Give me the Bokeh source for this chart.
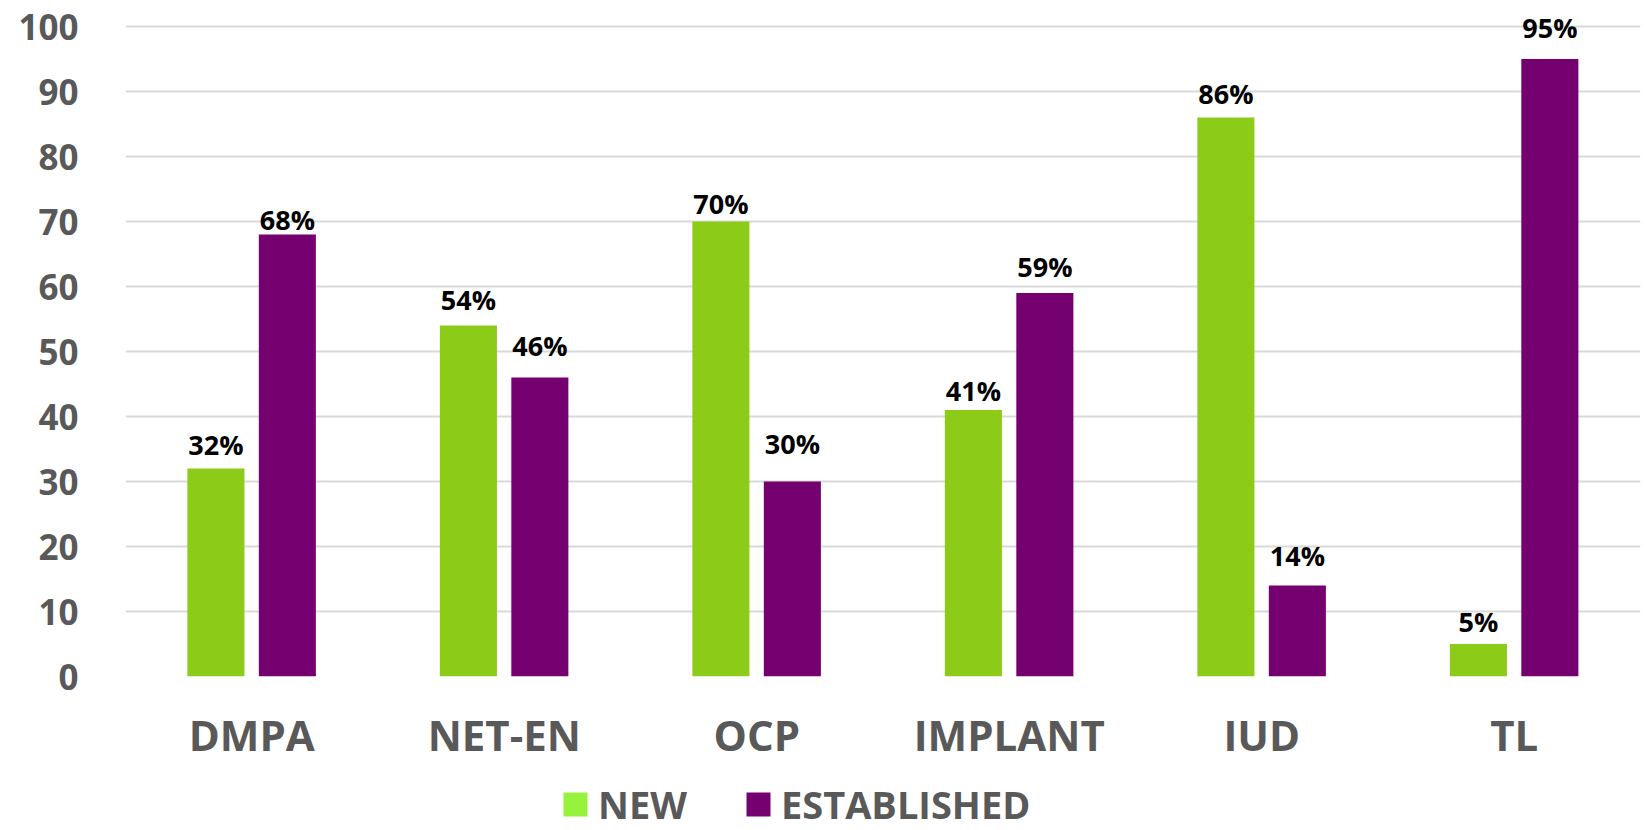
from bokeh.plotting import figure
from bokeh.layouts import column
from bokeh.models import ColumnDataSource, FactorRange, Range1d, FixedTicker, Legend, LegendItem
from bokeh.transform import dodge
from bokeh.core.properties import value
from bokeh.embed import file_html
from bokeh.resources import INLINE

# ---- data ----
methods = ["DMPA", "NET-EN", "OCP", "IMPLANT", "IUD", "TL"]
new_pct = [32, 54, 70, 41, 86, 5]
established_pct = [68, 46, 30, 59, 14, 95]
y_ticks = [0, 10, 20, 30, 40, 50, 60, 70, 80, 90, 100]
series_names = ["NEW", "ESTABLISHED"]

# label placement (pixels above bar tops, as in the original)
new_label_gap = [24, 26, 18, 20, 24, 23]
est_label_gap = [15, 32, 38, 27, 30, 32]

GREEN = "#8DCB19"
PURPLE = "#750070"
LEGEND_GREEN = "#96F23C"
GRAY = "#595959"
FONT = "Open Sans"

src = ColumnDataSource(dict(
    method=methods,
    new=new_pct,
    est=established_pct,
    new_lbl=[f"{v}%" for v in new_pct],
    est_lbl=[f"{v}%" for v in established_pct],
    new_off=[-g for g in new_label_gap],
    est_off=[-g for g in est_label_gap],
))

p = figure(
    x_range=FactorRange(*methods, range_padding=0),
    y_range=Range1d(0, 102),
    width=1645, height=765,
    output_backend="svg", toolbar_location=None,
    min_border_left=125, min_border_right=5,
    min_border_top=13, min_border_bottom=88,
)
p.outline_line_color = None
p.background_fill_color = "white"
p.border_fill_color = "white"

p.vbar(x=dodge("method", -0.142, range=p.x_range), top="new", width=0.226,
       source=src, fill_color=GREEN, line_color=None)
p.vbar(x=dodge("method", 0.141, range=p.x_range), top="est", width=0.226,
       source=src, fill_color=PURPLE, line_color=None)

p.text(x=dodge("method", -0.142, range=p.x_range), y="new", text="new_lbl",
       y_offset="new_off", source=src, text_align="center",
       text_baseline="alphabetic", text_font=value(FONT), text_font_style="bold",
       text_font_size="27px", text_color="black")
p.text(x=dodge("method", 0.141, range=p.x_range), y="est", text="est_lbl",
       y_offset="est_off", source=src, text_align="center",
       text_baseline="alphabetic", text_font=value(FONT), text_font_style="bold",
       text_font_size="27px", text_color="black")

# axes
p.xgrid.grid_line_color = None
p.ygrid.grid_line_color = "#D9D9D9"
p.ygrid.grid_line_width = 2
p.yaxis.ticker = FixedTicker(ticks=y_ticks)

for ax in (p.xaxis[0], p.yaxis[0]):
    ax.axis_line_color = None
    ax.major_tick_line_color = None
    ax.minor_tick_line_color = None
    ax.major_tick_out = 0
    ax.major_tick_in = 0
    ax.major_label_text_font = FONT
    ax.major_label_text_font_style = "bold"
    ax.major_label_text_color = GRAY

p.yaxis.major_label_text_font_size = "35px"
p.yaxis.major_label_standoff = 47
p.xaxis.major_label_text_font_size = "42px"
p.xaxis.major_label_standoff = 29

# ---- legend strip below the chart ----
lg = figure(width=1645, height=65, x_range=Range1d(0, 1), y_range=Range1d(0, 1),
            output_backend="svg", toolbar_location=None,
            x_axis_location=None, y_axis_location=None,
            min_border_left=0, min_border_right=0, min_border_top=0, min_border_bottom=0)
lg.outline_line_color = None
lg.xgrid.grid_line_color = None
lg.ygrid.grid_line_color = None
# zero-size swatch renderers (only their legend glyphs are seen)
swatch_src = ColumnDataSource(dict(x=[0.0], top=[0.0]))
r_new = lg.vbar(x="x", top="top", width=0.0, source=swatch_src,
                fill_color=LEGEND_GREEN, line_color=None)
r_est = lg.vbar(x="x", top="top", width=0.0, source=swatch_src,
                fill_color=PURPLE, line_color=None)
legend = Legend(items=[LegendItem(label=series_names[0], renderers=[r_new]),
                       LegendItem(label=series_names[1], renderers=[r_est])],
                orientation="horizontal", location=(435, 0),
                glyph_width=30, glyph_height=30, label_standoff=8, spacing=56,
                padding=0, margin=0, border_line_color=None,
                background_fill_alpha=0,
                label_text_font=FONT, label_text_font_style="bold",
                label_text_font_size="38px", label_text_color=GRAY)
lg.add_layout(legend, "center")

open("out.html", "w").write(file_html(column(p, lg), INLINE))
